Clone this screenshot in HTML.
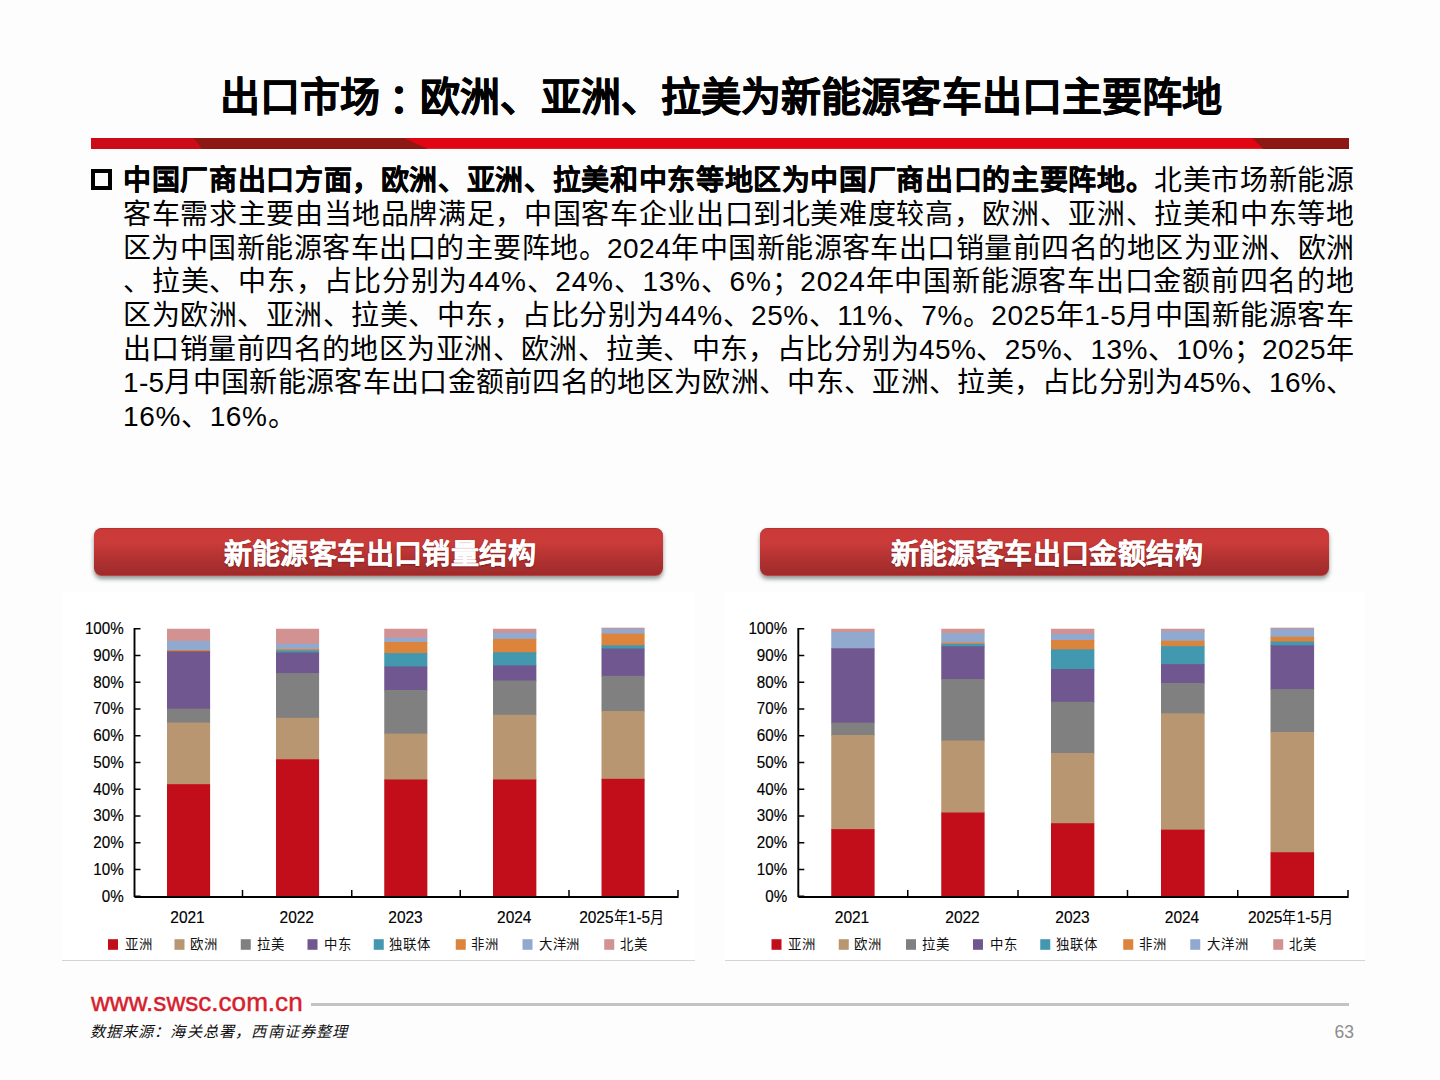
<!DOCTYPE html>
<html lang="zh-CN">
<head>
<meta charset="utf-8">
<title>出口市场：欧洲、亚洲、拉美为新能源客车出口主要阵地</title>
<style>
  html, body { margin: 0; padding: 0; }
  html { width: 1440px; height: 1080px; overflow: hidden; }
  body {
    width: 1440px; height: 1080px; overflow: hidden; position: relative;
    background: #fdfdfd; color: #000;
    font-family: "Liberation Sans", sans-serif;
  }
  .abs { position: absolute; }
  #title {
    left: 0; top: 67px; width: 1440px; text-indent: 2px; height: 60px; line-height: 60px;
    text-align: center; font-size: 40px; font-weight: bold; white-space: nowrap;
    letter-spacing: 0.1px; -webkit-text-stroke: 0.5px #000;
  }
  #title .colon { position: relative; left: 9px; top: 1px; }
  #redbar { left: 90.6px; top: 137.7px; }
  #bullet { left: 91px; top: 169px; width: 13px; height: 13px; border: 4px solid #000; }
  #para { left: 123px; top: 164.4px; width: 1231px; font-size: 28px; }
  #para .ln {
    height: 33.64px; line-height: 33.64px; white-space: nowrap;
    text-align: left;
  }
  #para .ln.last { text-align-last: left; }
  #para b { font-weight: bold; -webkit-text-stroke: 0.35px #000; }
  .pill {
    top: 528px; height: 47.6px; width: 569px; border-radius: 7.5px; box-sizing: border-box;
    background: linear-gradient(#cb3a38 0%, #cb3b39 30%, #b53433 58%, #9e2a2a 100%);
    box-shadow: 0 3px 4px rgba(40,50,50,0.5), inset 0 1px 0 rgba(150,40,40,0.45), inset 0 -1px 0 rgba(225,110,110,0.4);
    color: #fff; font-size: 28px; letter-spacing: 0.4px; font-weight: bold; text-align: center; line-height: 53.4px;
    text-shadow: 0 1px 2px rgba(0,0,0,0.35); white-space: nowrap; -webkit-text-stroke: 0.2px #fff;
  }
  #pill1 { left: 94.3px; padding-left: 2px; }
  #pill2 { left: 760.3px; padding-left: 4px; }
  .chart { top: 592px; background: #fff; }
  #chart1 { left: 62px; }
  #chart2 { left: 725px; }
  #www {
    left: 91px; top: 987.4px; font-size: 26.1px; line-height: 30px; color: #d6202d; white-space: nowrap; -webkit-text-stroke: 0.45px #d6202d;
  }
  #footline { left: 311px; top: 1002.8px; width: 1038px; height: 3px; background: #c3c3c3; }
  #source {
    left: 89.5px; top: 1022.3px; font-size: 15.2px; line-height: 20px; font-style: italic; white-space: nowrap;
    font-family: "Liberation Serif", serif; letter-spacing: 1.2px; color: #111; font-weight: 300;
  }
  #pageno { left: 1334.5px; top: 1021.5px; font-size: 17.5px; line-height: 20px; color: #8c8c8c; }
</style>
</head>
<body>

<div id="title" class="abs">出口市场<span class="colon">：</span>欧洲、亚洲、拉美为新能源客车出口主要阵地</div>

<svg id="redbar" class="abs" width="1258.2" height="10.9" viewBox="0 0 1259 12" preserveAspectRatio="none">
  <rect x="0" y="0" width="1259" height="12" fill="#e10514"/>
  <rect x="0" y="0" width="120" height="12" fill="#cc0b18"/>
  <polygon points="103,0 313,0 337,12 111,12" fill="#8d1712"/>
  <polygon points="1162,0 1259,0 1259,12 1173,12" fill="#8d1712"/>
</svg>

<div id="bullet" class="abs"></div>
<div id="para" class="abs">
  <div class="ln" style="letter-spacing:0.643px"><b>中国厂商出口方面，欧洲、亚洲、拉美和中东等地区为中国厂商出口的主要阵地。</b>北美市场新能源</div>
  <div class="ln" style="letter-spacing:0.643px">客车需求主要由当地品牌满足，中国客车企业出口到北美难度较高，欧洲、亚洲、拉美和中东等地</div>
  <div class="ln" style="letter-spacing:0.471px">区为中国新能源客车出口的主要阵地。2024年中国新能源客车出口销量前四名的地区为亚洲、欧洲</div>
  <div class="ln" style="letter-spacing:0.768px">、拉美、中东，占比分别为44%、24%、13%、6%；2024年中国新能源客车出口金额前四名的地</div>
  <div class="ln" style="letter-spacing:0.525px">区为欧洲、亚洲、拉美、中东，占比分别为44%、25%、11%、7%。2025年1-5月中国新能源客车</div>
  <div class="ln" style="letter-spacing:0.428px">出口销量前四名的地区为亚洲、欧洲、拉美、中东，占比分别为45%、25%、13%、10%；2025年</div>
  <div class="ln" style="letter-spacing:0.314px">1-5月中国新能源客车出口金额前四名的地区为欧洲、中东、亚洲、拉美，占比分别为45%、16%、</div>
  <div class="ln last" style="letter-spacing:0.65px">16%、16%。</div>
</div>

<div id="pill1" class="abs pill">新能源客车出口销量结构</div>
<div id="pill2" class="abs pill">新能源客车出口金额结构</div>

<!--CHART1-->
<svg id="chart1" class="abs chart" width="633" height="369" viewBox="0 0 633 369" font-family="'Liberation Sans', sans-serif">
<g>
<rect x="105" y="36.75" width="43.1" height="12.74" fill="#d29292"/>
<rect x="105" y="48.79" width="43.1" height="9.93" fill="#92a9cf"/>
<rect x="105" y="58.02" width="43.1" height="1.9" fill="#dc843b"/>
<rect x="105" y="59.22" width="43.1" height="58.21" fill="#70578f"/>
<rect x="105" y="116.73" width="43.1" height="14.48" fill="#808080"/>
<rect x="105" y="130.51" width="43.1" height="62.36" fill="#b89672"/>
<rect x="105" y="192.17" width="43.1" height="112.08" fill="#c20e1a"/>
<rect x="214" y="36.75" width="43.1" height="15.68" fill="#d29292"/>
<rect x="214" y="51.73" width="43.1" height="6.05" fill="#92a9cf"/>
<rect x="214" y="57.08" width="43.1" height="2.04" fill="#dc843b"/>
<rect x="214" y="58.42" width="43.1" height="2.84" fill="#4198af"/>
<rect x="214" y="60.56" width="43.1" height="21.3" fill="#70578f"/>
<rect x="214" y="81.15" width="43.1" height="45.37" fill="#808080"/>
<rect x="214" y="125.83" width="43.1" height="42.16" fill="#b89672"/>
<rect x="214" y="167.29" width="43.1" height="136.96" fill="#c20e1a"/>
<rect x="322.25" y="36.75" width="43.1" height="9.53" fill="#d29292"/>
<rect x="322.25" y="45.58" width="43.1" height="5.11" fill="#92a9cf"/>
<rect x="322.25" y="49.99" width="43.1" height="11.8" fill="#dc843b"/>
<rect x="322.25" y="61.09" width="43.1" height="14.08" fill="#4198af"/>
<rect x="322.25" y="74.47" width="43.1" height="24.24" fill="#70578f"/>
<rect x="322.25" y="98.01" width="43.1" height="44.3" fill="#808080"/>
<rect x="322.25" y="141.61" width="43.1" height="46.58" fill="#b89672"/>
<rect x="322.25" y="187.49" width="43.1" height="116.76" fill="#c20e1a"/>
<rect x="431" y="36.75" width="43.35" height="4.71" fill="#d29292"/>
<rect x="431" y="40.76" width="43.35" height="6.85" fill="#92a9cf"/>
<rect x="431" y="46.91" width="43.35" height="14.08" fill="#dc843b"/>
<rect x="431" y="60.29" width="43.35" height="13.81" fill="#4198af"/>
<rect x="431" y="73.4" width="43.35" height="15.81" fill="#70578f"/>
<rect x="431" y="88.51" width="43.35" height="34.94" fill="#808080"/>
<rect x="431" y="122.75" width="43.35" height="65.44" fill="#b89672"/>
<rect x="431" y="187.49" width="43.35" height="116.76" fill="#c20e1a"/>
<rect x="539.5" y="35.68" width="43.1" height="1.77" fill="#d29292"/>
<rect x="539.5" y="36.75" width="43.1" height="5.52" fill="#92a9cf"/>
<rect x="539.5" y="41.57" width="43.1" height="12.47" fill="#dc843b"/>
<rect x="539.5" y="53.34" width="43.1" height="3.91" fill="#4198af"/>
<rect x="539.5" y="56.55" width="43.1" height="27.99" fill="#70578f"/>
<rect x="539.5" y="83.83" width="43.1" height="35.88" fill="#808080"/>
<rect x="539.5" y="119.01" width="43.1" height="68.51" fill="#b89672"/>
<rect x="539.5" y="186.82" width="43.1" height="117.43" fill="#c20e1a"/>
</g>
<g stroke="#000" stroke-width="1.9" fill="none">
<path d="M72.5,35.9 V305.1"/>
<path d="M72.5,305 H616.6"/>
</g><g stroke="#000" stroke-width="1.5" fill="none">
<path d="M72.5,304.25 h6"/>
<path d="M72.5,277.5 h6"/>
<path d="M72.5,250.75 h6"/>
<path d="M72.5,224 h6"/>
<path d="M72.5,197.25 h6"/>
<path d="M72.5,170.5 h6"/>
<path d="M72.5,143.75 h6"/>
<path d="M72.5,117 h6"/>
<path d="M72.5,90.25 h6"/>
<path d="M72.5,63.5 h6"/>
<path d="M72.5,36.75 h6"/>
<path d="M180.5,304.25 v-6.3"/>
<path d="M289.75,304.25 v-6.3"/>
<path d="M398.25,304.25 v-6.3"/>
<path d="M507,304.25 v-6.3"/>
<path d="M616,304.25 v-6.3"/>
</g>
<g font-size="17.2" fill="#000" stroke="#000" stroke-width="0.18" text-anchor="end">
<text transform="translate(61.75,309.65) scale(0.883,1)">0%</text>
<text transform="translate(61.75,282.9) scale(0.883,1)">10%</text>
<text transform="translate(61.75,256.15) scale(0.883,1)">20%</text>
<text transform="translate(61.75,229.4) scale(0.883,1)">30%</text>
<text transform="translate(61.75,202.65) scale(0.883,1)">40%</text>
<text transform="translate(61.75,175.9) scale(0.883,1)">50%</text>
<text transform="translate(61.75,149.15) scale(0.883,1)">60%</text>
<text transform="translate(61.75,122.4) scale(0.883,1)">70%</text>
<text transform="translate(61.75,95.65) scale(0.883,1)">80%</text>
<text transform="translate(61.75,68.9) scale(0.883,1)">90%</text>
<text transform="translate(61.75,42.15) scale(0.883,1)">100%</text>
</g>
<g font-size="17.2" fill="#000" stroke="#000" stroke-width="0.18" text-anchor="middle">
<text transform="translate(125.5,331.15) scale(0.9,1)">2021</text>
<text transform="translate(234.75,331.15) scale(0.9,1)">2022</text>
<text transform="translate(343.5,331.15) scale(0.9,1)">2023</text>
<text transform="translate(452.25,331.15) scale(0.9,1)">2024</text>
<text transform="translate(559.75,331.15) scale(0.9,1)">2025<tspan font-size="15.6" font-weight="300" stroke="none">年</tspan>1-5<tspan font-size="15.6" font-weight="300" stroke="none">月</tspan></text>
</g>
<g font-family="'Liberation Serif', serif" font-size="13.4" font-weight="300" fill="#111" letter-spacing="0.9">
<rect x="46" y="347.2" width="10" height="10.6" fill="#c20e1a"/>
<text x="62.9" y="356.6">亚洲</text>
<rect x="112.5" y="347.2" width="10" height="10.6" fill="#b89672"/>
<text x="127.9" y="356.6">欧洲</text>
<rect x="178.75" y="347.2" width="10" height="10.6" fill="#808080"/>
<text x="194.9" y="356.6">拉美</text>
<rect x="245.5" y="347.2" width="10" height="10.6" fill="#70578f"/>
<text x="262.4" y="356.6">中东</text>
<rect x="311.75" y="347.2" width="10" height="10.6" fill="#4198af"/>
<text x="327.4" y="356.6">独联体</text>
<rect x="393.75" y="347.2" width="10" height="10.6" fill="#dc843b"/>
<text x="409.4" y="356.6">非洲</text>
<rect x="460.5" y="347.2" width="10" height="10.6" fill="#92a9cf"/>
<text x="476.65" y="356.6">大洋洲</text>
<rect x="542.25" y="347.2" width="10" height="10.6" fill="#d29292"/>
<text x="557.9" y="356.6">北美</text>
</g>
<rect x="0" y="368" width="633" height="1" fill="#d4d4d4"/>
</svg>
<!--/CHART1-->
<!--CHART2-->
<svg id="chart2" class="abs chart" width="640" height="369" viewBox="0 0 640 369" font-family="'Liberation Sans', sans-serif">
<g>
<rect x="106.25" y="36.75" width="43.35" height="3.91" fill="#d29292"/>
<rect x="106.25" y="39.96" width="43.35" height="17.02" fill="#92a9cf"/>
<rect x="106.25" y="56.28" width="43.35" height="75.06" fill="#70578f"/>
<rect x="106.25" y="130.64" width="43.35" height="13.01" fill="#808080"/>
<rect x="106.25" y="142.95" width="43.35" height="94.86" fill="#b89672"/>
<rect x="106.25" y="237.11" width="43.35" height="67.14" fill="#c20e1a"/>
<rect x="216.25" y="36.75" width="43.35" height="4.98" fill="#d29292"/>
<rect x="216.25" y="41.03" width="43.35" height="10.33" fill="#92a9cf"/>
<rect x="216.25" y="50.66" width="43.35" height="2.04" fill="#dc843b"/>
<rect x="216.25" y="52" width="43.35" height="2.84" fill="#4198af"/>
<rect x="216.25" y="54.14" width="43.35" height="33.6" fill="#70578f"/>
<rect x="216.25" y="87.04" width="43.35" height="62.23" fill="#808080"/>
<rect x="216.25" y="148.57" width="43.35" height="72.66" fill="#b89672"/>
<rect x="216.25" y="220.52" width="43.35" height="83.73" fill="#c20e1a"/>
<rect x="326" y="36.75" width="43.35" height="5.78" fill="#d29292"/>
<rect x="326" y="41.83" width="43.35" height="6.85" fill="#92a9cf"/>
<rect x="326" y="47.99" width="43.35" height="10.06" fill="#dc843b"/>
<rect x="326" y="57.35" width="43.35" height="20.36" fill="#4198af"/>
<rect x="326" y="77.01" width="43.35" height="33.47" fill="#70578f"/>
<rect x="326" y="109.78" width="43.35" height="51.93" fill="#808080"/>
<rect x="326" y="161" width="43.35" height="70.92" fill="#b89672"/>
<rect x="326" y="231.22" width="43.35" height="73.03" fill="#c20e1a"/>
<rect x="436" y="36.75" width="43.6" height="2.84" fill="#d29292"/>
<rect x="436" y="38.89" width="43.6" height="10.6" fill="#92a9cf"/>
<rect x="436" y="48.79" width="43.6" height="6.05" fill="#dc843b"/>
<rect x="436" y="54.14" width="43.6" height="18.62" fill="#4198af"/>
<rect x="436" y="72.06" width="43.6" height="19.69" fill="#70578f"/>
<rect x="436" y="91.05" width="43.6" height="30.93" fill="#808080"/>
<rect x="436" y="121.28" width="43.6" height="117.06" fill="#b89672"/>
<rect x="436" y="237.64" width="43.6" height="66.61" fill="#c20e1a"/>
<rect x="545.5" y="35.68" width="43.6" height="1.77" fill="#d29292"/>
<rect x="545.5" y="36.75" width="43.6" height="8.73" fill="#92a9cf"/>
<rect x="545.5" y="44.78" width="43.6" height="5.51" fill="#dc843b"/>
<rect x="545.5" y="49.59" width="43.6" height="4.45" fill="#4198af"/>
<rect x="545.5" y="53.34" width="43.6" height="44.57" fill="#70578f"/>
<rect x="545.5" y="97.21" width="43.6" height="43.5" fill="#808080"/>
<rect x="545.5" y="140" width="43.6" height="120.94" fill="#b89672"/>
<rect x="545.5" y="260.25" width="43.6" height="44" fill="#c20e1a"/>
</g>
<g stroke="#000" stroke-width="1.9" fill="none">
<path d="M73.3,35.9 V305.1"/>
<path d="M73.3,305 H623.6"/>
</g><g stroke="#000" stroke-width="1.5" fill="none">
<path d="M73.3,304.25 h6"/>
<path d="M73.3,277.5 h6"/>
<path d="M73.3,250.75 h6"/>
<path d="M73.3,224 h6"/>
<path d="M73.3,197.25 h6"/>
<path d="M73.3,170.5 h6"/>
<path d="M73.3,143.75 h6"/>
<path d="M73.3,117 h6"/>
<path d="M73.3,90.25 h6"/>
<path d="M73.3,63.5 h6"/>
<path d="M73.3,36.75 h6"/>
<path d="M182.75,304.25 v-6.3"/>
<path d="M293,304.25 v-6.3"/>
<path d="M402.5,304.25 v-6.3"/>
<path d="M512.75,304.25 v-6.3"/>
<path d="M623,304.25 v-6.3"/>
</g>
<g font-size="17.2" fill="#000" stroke="#000" stroke-width="0.18" text-anchor="end">
<text transform="translate(62.25,309.65) scale(0.883,1)">0%</text>
<text transform="translate(62.25,282.9) scale(0.883,1)">10%</text>
<text transform="translate(62.25,256.15) scale(0.883,1)">20%</text>
<text transform="translate(62.25,229.4) scale(0.883,1)">30%</text>
<text transform="translate(62.25,202.65) scale(0.883,1)">40%</text>
<text transform="translate(62.25,175.9) scale(0.883,1)">50%</text>
<text transform="translate(62.25,149.15) scale(0.883,1)">60%</text>
<text transform="translate(62.25,122.4) scale(0.883,1)">70%</text>
<text transform="translate(62.25,95.65) scale(0.883,1)">80%</text>
<text transform="translate(62.25,68.9) scale(0.883,1)">90%</text>
<text transform="translate(62.25,42.15) scale(0.883,1)">100%</text>
</g>
<g font-size="17.2" fill="#000" stroke="#000" stroke-width="0.18" text-anchor="middle">
<text transform="translate(127,331.15) scale(0.9,1)">2021</text>
<text transform="translate(237.5,331.15) scale(0.9,1)">2022</text>
<text transform="translate(347.5,331.15) scale(0.9,1)">2023</text>
<text transform="translate(457,331.15) scale(0.9,1)">2024</text>
<text transform="translate(565.6,331.15) scale(0.9,1)">2025<tspan font-size="15.6" font-weight="300" stroke="none">年</tspan>1-5<tspan font-size="15.6" font-weight="300" stroke="none">月</tspan></text>
</g>
<g font-family="'Liberation Serif', serif" font-size="13.4" font-weight="300" fill="#111" letter-spacing="0.9">
<rect x="46.5" y="347.2" width="10" height="10.6" fill="#c20e1a"/>
<text x="63.15" y="356.6">亚洲</text>
<rect x="113.75" y="347.2" width="10" height="10.6" fill="#b89672"/>
<text x="129.4" y="356.6">欧洲</text>
<rect x="181" y="347.2" width="10" height="10.6" fill="#808080"/>
<text x="196.9" y="356.6">拉美</text>
<rect x="248" y="347.2" width="10" height="10.6" fill="#70578f"/>
<text x="264.9" y="356.6">中东</text>
<rect x="315.25" y="347.2" width="10" height="10.6" fill="#4198af"/>
<text x="331.4" y="356.6">独联体</text>
<rect x="398.25" y="347.2" width="10" height="10.6" fill="#dc843b"/>
<text x="413.9" y="356.6">非洲</text>
<rect x="465.25" y="347.2" width="10" height="10.6" fill="#92a9cf"/>
<text x="482.4" y="356.6">大洋洲</text>
<rect x="548.25" y="347.2" width="10" height="10.6" fill="#d29292"/>
<text x="563.9" y="356.6">北美</text>
</g>
<rect x="0" y="368" width="640" height="1" fill="#d4d4d4"/>
</svg>
<!--/CHART2-->

<div id="www" class="abs">www.swsc.com.cn</div>
<div id="footline" class="abs"></div>
<div id="source" class="abs">数据来源：海关总署，西南证券整理</div>
<div id="pageno" class="abs">63</div>

</body>
</html>
